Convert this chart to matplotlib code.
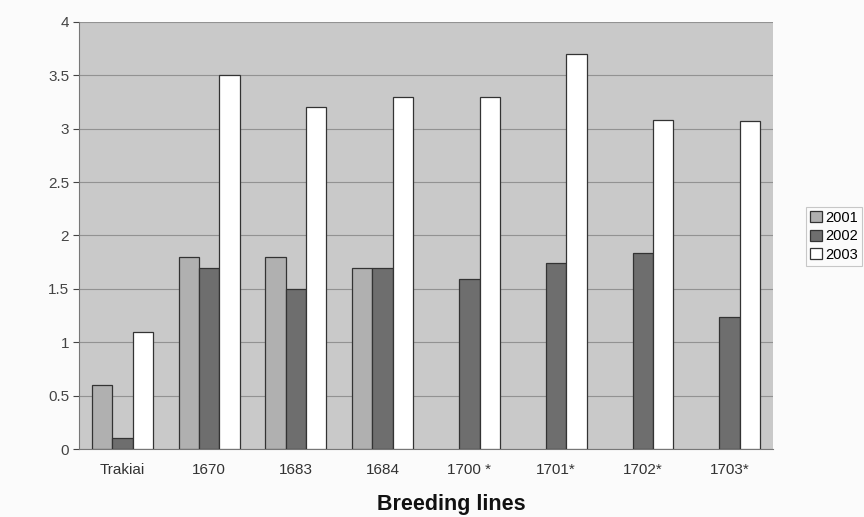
import matplotlib.pyplot as plt
import numpy as np

plt.rcParams["font.family"] = ["Liberation Sans", "DejaVu Sans"]

# data
lines = ["Trakiai", "1670", "1683", "1684", "1700 *", "1701*", "1702*", "1703*"]
years = ["2001", "2002", "2003"]
v2001 = [0.6, 1.8, 1.8, 1.7, 0, 0, 0, 0]
v2002 = [0.1, 1.7, 1.5, 1.7, 1.59, 1.74, 1.84, 1.24]
v2003 = [1.1, 3.5, 3.2, 3.3, 3.3, 3.7, 3.08, 3.07]
colors = ["#b0b0b0", "#6e6e6e", "#ffffff"]

fig = plt.figure(figsize=(8.64, 5.17), dpi=100)
fig.patch.set_facecolor("#fbfbfb")
ax = fig.add_axes([0.0914, 0.1315, 0.8033, 0.826])
ax.set_facecolor("#c9c9c9")

x = np.arange(len(lines))
w = 0.235
for i, (vals, col) in enumerate(zip([v2001, v2002, v2003], colors)):
    vals = np.array(vals, dtype=float)
    mask = vals > 0
    ax.bar(x[mask] + (i - 1) * w, vals[mask], width=w, color=col,
           edgecolor="#333333", linewidth=0.9, label=years[i], zorder=3)

ax.set_xlim(-0.5, len(lines) - 0.5)
ax.set_ylim(0, 4)
ax.set_yticks(np.arange(0, 4.01, 0.5))
ax.set_yticklabels(["0", "0.5", "1", "1.5", "2", "2.5", "3", "3.5", "4"])
ax.yaxis.grid(True, color="#929292", linewidth=0.8, zorder=0)
ax.set_axisbelow(True)
ax.set_xticks(x)
ax.set_xticklabels(lines)
ax.tick_params(axis="x", length=0, pad=10, labelsize=11, colors="#333333")
ax.tick_params(axis="y", length=4, labelsize=11, colors="#444444", pad=3)
for s in ax.spines.values():
    s.set_color("#777777")
    s.set_linewidth(0.8)
ax.spines["top"].set_visible(False)
ax.spines["right"].set_visible(False)

fig.text(0.522, 0.003, "Breeding lines", ha="center", va="bottom",
         fontsize=15.5, fontweight="bold", color="#111111")

leg = fig.legend(loc="center left", bbox_to_anchor=(0.933, 0.543), frameon=True,
                 fontsize=10.5, handlelength=0.8, handleheight=0.8,
                 handletextpad=0.2, borderpad=0.3, labelspacing=0.3,
                 fancybox=False, borderaxespad=0)
leg.get_frame().set_edgecolor("#bbbbbb")
leg.get_frame().set_linewidth(0.8)
leg.get_frame().set_facecolor("#fbfbfb")

fig.savefig("out.png", dpi=100, facecolor=fig.get_facecolor())
